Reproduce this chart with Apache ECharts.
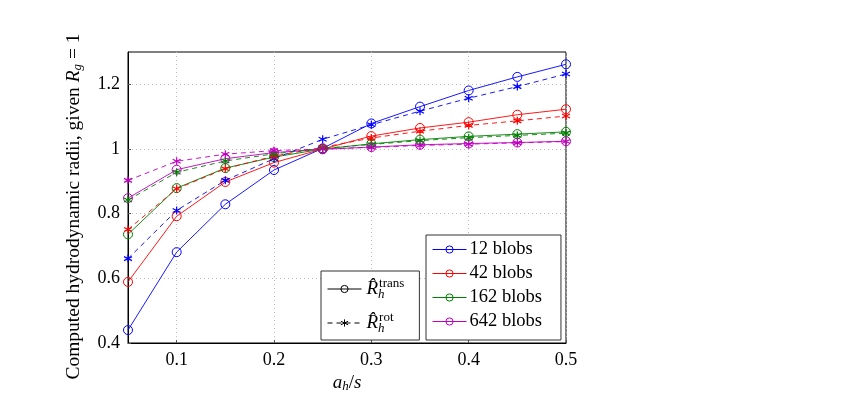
<!DOCTYPE html>
<html><head><meta charset="utf-8">
<script src="https://cdn.jsdelivr.net/npm/echarts@6/dist/echarts.min.js"></script>
<style>html,body{margin:0;padding:0;background:#fff}#c{width:867px;height:398px}</style>
</head><body><div id="c"></div>
<script>
const xValues = [0.05,0.1,0.15,0.2,0.25,0.3,0.35,0.4,0.45,0.5];
const xTicks = [0.1,0.2,0.3,0.4,0.5];
const yTicks = [0.4,0.6,0.8,1,1.2];
const blobNames = ['12 blobs','42 blobs','162 blobs','642 blobs'];
const b12Trans = [0.44,0.681,0.829,0.935,1.002,1.079,1.131,1.181,1.223,1.262];
const b12Rot = [0.661,0.81,0.903,0.97,1.03,1.075,1.117,1.157,1.193,1.232];
const b42Trans = [0.589,0.792,0.898,0.958,1.0,1.04,1.065,1.083,1.106,1.123];
const b42Rot = [0.751,0.877,0.939,0.978,1.005,1.034,1.055,1.073,1.087,1.102];
const b162Trans = [0.736,0.879,0.941,0.975,1.0,1.016,1.029,1.039,1.046,1.053];
const b162Rot = [0.842,0.928,0.963,0.985,1.002,1.014,1.026,1.035,1.042,1.049];
const b642Trans = [0.848,0.936,0.97,0.989,0.999,1.006,1.013,1.017,1.02,1.024];
const b642Rot = [0.903,0.962,0.984,0.995,1.0,1.005,1.011,1.015,1.019,1.023];

const colors = ['#0000ff','#ff0000','#008000','#bf00bf'];
const transData = [b12Trans,b42Trans,b162Trans,b642Trans];
const rotData = [b12Rot,b42Rot,b162Rot,b642Rot];
const FONT = 'Liberation Serif';
const STAR = 'path://M0,-1L0,1M-0.87,-0.5L0.87,0.5M-0.87,0.5L0.87,-0.5';
const pair = arr => xValues.map((x,i)=>[x,arr[i]]);
const hollow = c => ({color:'rgba(255,255,255,0)',borderColor:c,borderWidth:1});

const series = [];
blobNames.forEach((n,i)=>{
  series.push({name:n,type:'line',data:pair(transData[i]),symbol:'circle',symbolSize:9,
    lineStyle:{color:colors[i],width:0.9},itemStyle:hollow(colors[i]),
    emphasis:{disabled:true},z:3});
});
blobNames.forEach((n,i)=>{
  series.push({name:n+' rot',type:'line',data:pair(rotData[i]),symbol:STAR,symbolSize:8,
    lineStyle:{color:colors[i],width:0.9,type:[5,4]},
    itemStyle:{color:'rgba(255,255,255,0)',borderColor:colors[i],borderWidth:1.2},
    emphasis:{disabled:true},z:3});
});
series.push({name:'trans',type:'line',data:[],symbol:'circle',symbolSize:9,
  lineStyle:{color:'#000',width:0.9},itemStyle:hollow('#000')});
series.push({name:'rot',type:'line',data:[],symbol:STAR,symbolSize:8,
  lineStyle:{color:'#000',width:0.9,type:[5,4]},itemStyle:{color:'rgba(255,255,255,0)',borderColor:'#000',borderWidth:1.2}});

const chart = echarts.init(document.getElementById('c'));
chart.setOption({
  animation:false,
  backgroundColor:'#fff',
  grid:{left:128,top:52,right:301,bottom:55,show:true,borderColor:'#000',borderWidth:1,backgroundColor:'transparent'},
  xAxis:{type:'value',min:0.05,max:0.5,
    name:'{i|a}{s|h}{n|/}{i|s}',nameLocation:'middle',nameGap:30,
    nameTextStyle:{rich:{i:{fontFamily:FONT,fontStyle:'italic',fontSize:19,color:'#000'},
      s:{fontFamily:FONT,fontStyle:'italic',fontSize:13,color:'#000',verticalAlign:'bottom',padding:[6,0,0,0]},
      n:{fontFamily:FONT,fontSize:19,color:'#000'}}},
    axisLine:{show:true,lineStyle:{color:'#000',width:1}},
    axisTick:{show:true,inside:true,length:3,customValues:xTicks,lineStyle:{color:'#555'}},
    axisLabel:{customValues:xTicks,fontFamily:FONT,fontSize:18,color:'#000',margin:8},
    splitLine:{show:true,lineStyle:{color:'#bbb',type:[1,3],width:1}}
  },
  yAxis:{type:'value',min:0.4,max:1.3,
    name:'{n|Computed hydrodynamic radii, given }{i|R}{s|g}{n| = 1}',nameLocation:'middle',nameGap:44,
    nameTextStyle:{padding:[0,18,0,0],rich:{i:{fontFamily:FONT,fontStyle:'italic',fontSize:19.5,color:'#000'},
      s:{fontFamily:FONT,fontStyle:'italic',fontSize:13,color:'#000',verticalAlign:'bottom',padding:[7,0,0,0]},
      n:{fontFamily:FONT,fontSize:19.5,color:'#000'}}},
    axisLine:{show:true,lineStyle:{color:'#000',width:1}},
    axisTick:{show:true,inside:true,length:3,customValues:yTicks,lineStyle:{color:'#555'}},
    axisLabel:{customValues:yTicks,fontFamily:FONT,fontSize:18,color:'#000',margin:8},
    splitLine:{show:true,lineStyle:{color:'#bbb',type:[1,3],width:1}}
  },
  legend:[
    {data:blobNames,orient:'vertical',left:426,top:235,itemGap:5,itemWidth:34,itemHeight:9,
     padding:[5,19,9,6],borderColor:'#333',borderWidth:1,backgroundColor:'#fff',
     lineStyle:{width:1},itemStyle:{borderWidth:1},
     textStyle:{fontFamily:FONT,fontSize:18.5,color:'#000',padding:[0,0,0,-2]},selectedMode:false},
    {data:['trans','rot'],orient:'vertical',left:321,top:271,itemGap:10,itemWidth:34,itemHeight:9,
     padding:[6,15,5,6],borderColor:'#333',borderWidth:1,backgroundColor:'#fff',selectedMode:false,
     lineStyle:{width:1},itemStyle:{borderWidth:1},
     formatter:n=>n==='trans'?'{r|R̂}{h|h}{s|trans}':'{r|R̂}{h|h}{s|rot}',
     textStyle:{color:'#000',rich:{
       r:{fontFamily:FONT,fontStyle:'italic',fontSize:19,color:'#000'},
       h:{fontFamily:FONT,fontStyle:'italic',fontSize:13,color:'#000',verticalAlign:'bottom',width:1,padding:[11,0,0,0]},
       s:{fontFamily:FONT,fontSize:13,color:'#000',verticalAlign:'top',padding:[0,0,11,0]}
     }}}
  ],
  series
});
</script></body></html>
